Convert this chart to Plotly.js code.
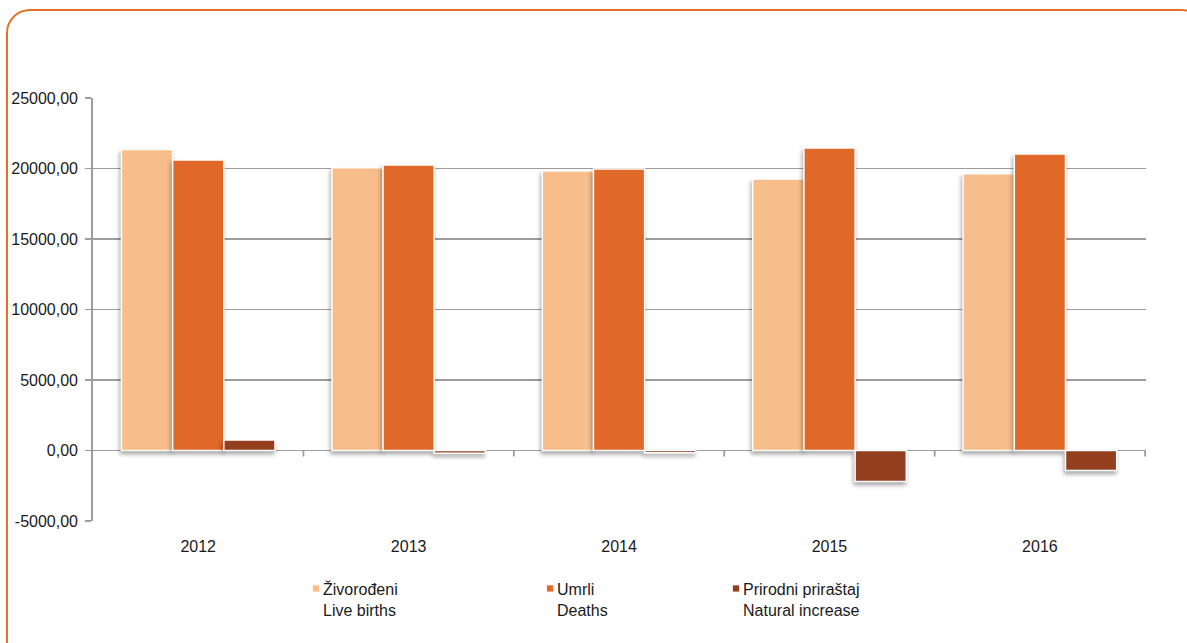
<!DOCTYPE html>
<html>
<head>
<meta charset="utf-8">
<script src="https://cdn.plot.ly/plotly-3.0.1.min.js"></script>
<style>
  html, body { margin: 0; padding: 0; background: #ffffff; }
  #frame { position: absolute; left: 6px; top: 9px; width: 1200px; height: 700px;
           border: 2px solid #E8712A; border-radius: 24px; box-sizing: border-box; }
  #chart { position: absolute; left: 0; top: 0; width: 1187px; height: 643px; }
  .barlayer .point path { filter: drop-shadow(-1px 3px 2px rgba(0,0,0,0.35)); }
  .legendpoints path { transform: translate(33px, -11px) scale(0.6); }
</style>
</head>
<body>
<div id="frame"></div>
<div id="chart"></div>
<script>
const years = ['2012', '2013', '2014', '2015', '2016'];
const liveBirths = [21350, 20050, 19830, 19260, 19620];
const deaths = [20600, 20250, 19970, 21460, 21030];
const naturalIncrease = [750, -200, -160, -2200, -1410];
const seriesNames = ['Živorođeni<br>Live births', 'Umrli<br>Deaths', 'Prirodni priraštaj<br>Natural increase'];
const yTicks = [-5000, 0, 5000, 10000, 15000, 20000, 25000];
const yTickText = yTicks.map(v => v.toFixed(2).replace('.', ','));

const colors = ['#F7BD8B', '#E06828', '#933F1E'];
const font = {family: 'Liberation Sans, Arial, sans-serif', size: 16, color: '#1a1a1a'};
const gridColor = '#9d9d9d';

function mk(vals, i, leg) {
  return {
    type: 'bar', x: years, y: vals, name: seriesNames[i],
    marker: {color: colors[i], line: {color: '#ffffff', width: 1.5}},
    legend: leg, hoverinfo: 'y'
  };
}

const data = [
  mk(liveBirths, 0, 'legend'),
  mk(deaths, 1, 'legend2'),
  mk(naturalIncrease, 2, 'legend3')
];

const legBase = {orientation: 'v', yanchor: 'top', y: -0.121, xanchor: 'left',
  font: font, bgcolor: 'rgba(0,0,0,0)', itemwidth: 30, tracegroupgap: 0};

const layout = {
  width: 1187, height: 643,
  margin: {l: 93, r: 41, t: 98, b: 122, autoexpand: false},
  paper_bgcolor: 'rgba(0,0,0,0)', plot_bgcolor: 'rgba(0,0,0,0)',
  font: font,
  barmode: 'group', bargap: 0.27, bargroupgap: 0,
  xaxis: {type: 'category', showgrid: false, zeroline: false, showline: false,
    ticks: '', ticklabelstandoff: 14, tickfont: font},
  yaxis: {range: [-5000, 25000], tickvals: yTicks, ticktext: yTickText,
    showgrid: true, gridcolor: gridColor, gridwidth: 1.8,
    zeroline: true, zerolinecolor: gridColor, zerolinewidth: 1.8,
    showline: true, linecolor: gridColor, linewidth: 1.8,
    ticks: 'outside', ticklen: 6, tickcolor: gridColor, tickwidth: 1.8,
    ticklabelstandoff: 4, tickfont: font},
  legend: Object.assign({}, legBase, {x: (283 - 93) / 1053}),
  legend2: Object.assign({}, legBase, {x: (517 - 93) / 1053}),
  legend3: Object.assign({}, legBase, {x: (703 - 93) / 1053}),
  showlegend: true,
  shapes: [0.5, 1.5, 2.5, 3.5, 4.5].map(b => ({
    type: 'line', xref: 'x', yref: 'y', x0: b, x1: b,
    ysizemode: 'pixel', yanchor: 0, y0: 0, y1: -6,
    line: {color: gridColor, width: 1.8}
  }))
};

Plotly.newPlot('chart', data, layout, {displayModeBar: false, staticPlot: true});
</script>
</body>
</html>
